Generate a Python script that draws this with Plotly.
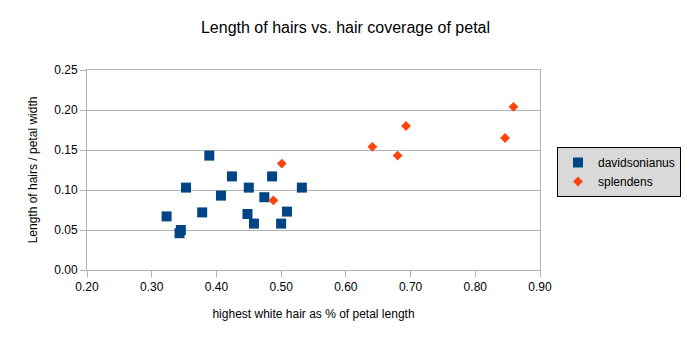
import plotly.graph_objects as go

david_x = [0.323, 0.345, 0.343, 0.353, 0.378, 0.389, 0.407, 0.424, 0.450, 0.448, 0.458, 0.474, 0.486, 0.500, 0.509, 0.532]
david_y = [0.067, 0.050, 0.046, 0.103, 0.072, 0.143, 0.093, 0.117, 0.103, 0.070, 0.058, 0.091, 0.117, 0.058, 0.073, 0.103]
splen_x = [0.488, 0.501, 0.641, 0.680, 0.693, 0.846, 0.859]
splen_y = [0.087, 0.133, 0.154, 0.143, 0.180, 0.165, 0.204]

x_ticks = [0.2, 0.3, 0.4, 0.5, 0.6, 0.7, 0.8, 0.9]
y_ticks = [0.0, 0.05, 0.10, 0.15, 0.20, 0.25]

fig = go.Figure()
fig.add_trace(go.Scatter(x=david_x, y=david_y, mode="markers", name="davidsonianus",
                         marker=dict(symbol="square", size=10, color="#004586", line=dict(width=0))))
fig.add_trace(go.Scatter(x=splen_x, y=splen_y, mode="markers", name="splendens",
                         marker=dict(symbol="diamond", size=7.5, color="#ff420e", line=dict(width=0))))

axis_common = dict(showline=True, linecolor="#b3b3b3", linewidth=1, mirror=True,
                   gridcolor="#b3b3b3", gridwidth=1, zeroline=False,
                   ticks="outside", ticklen=6, tickcolor="#b3b3b3",
                   tickfont=dict(family="Liberation Sans, Arial, sans-serif", size=12, color="#000"))

fig.update_xaxes(range=[0.2, 0.9], tickvals=x_ticks, ticktext=[f"{v:.2f}" for v in x_ticks],
                 showgrid=False,
                 title=dict(text="highest white hair as % of petal length", standoff=16,
                            font=dict(family="Liberation Sans, Arial, sans-serif", size=12, color="#000")),
                 **axis_common)
fig.update_yaxes(range=[0, 0.25], tickvals=y_ticks, ticktext=[f"{v:.2f}" for v in y_ticks],
                 title=dict(text="Length of hairs / petal width", standoff=14,
                            font=dict(family="Liberation Sans, Arial, sans-serif", size=12, color="#000")),
                 **axis_common)

fig.update_layout(
    width=691, height=341,
    margin=dict(l=87, r=151, t=70, b=71, autoexpand=False),
    paper_bgcolor="white", plot_bgcolor="white",
    title=dict(text="Length of hairs vs. hair coverage of petal", x=0.5, xanchor="center",
               y=1 - 27/341, yanchor="middle",
               font=dict(family="Liberation Sans, Arial, sans-serif", size=16, color="#000")),
    legend=dict(xref="container", yref="container", x=557/691, y=1 - 147/341,
                xanchor="left", yanchor="top",
                bgcolor="#d9d9d9", bordercolor="#000", borderwidth=1,
                itemwidth=30, tracegroupgap=0,
                font=dict(family="Liberation Sans, Arial, sans-serif", size=12, color="#000")),
    showlegend=True,
)

fig.write_html("out.html")
